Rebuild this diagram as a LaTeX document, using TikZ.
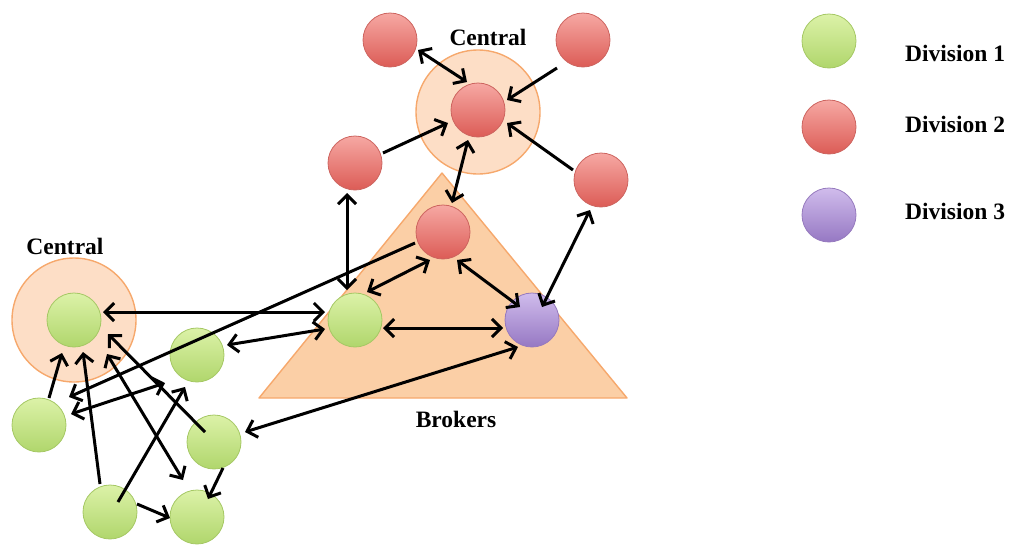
\documentclass[tikz,border=0pt]{standalone}
\usepackage{fontspec}
\setmainfont{Liberation Serif}
\usetikzlibrary{arrows.meta,calc}
\definecolor{gtop}{RGB}{220,242,168}
\definecolor{gbot}{RGB}{176,214,108}
\definecolor{gline}{RGB}{165,200,100}
\definecolor{rtop}{RGB}{246,168,163}
\definecolor{rbot}{RGB}{220,92,86}
\definecolor{rline}{RGB}{205,100,95}
\definecolor{ptop}{RGB}{208,188,236}
\definecolor{pbot}{RGB}{150,120,195}
\definecolor{pline}{RGB}{150,122,190}
\definecolor{orfill}{RGB}{253,222,198}
\definecolor{orline}{RGB}{246,168,108}
\definecolor{trfill}{RGB}{251,207,166}
\begin{document}
\begin{tikzpicture}[x=1pt,y=-1pt,
  dot/.style={circle, minimum size=54pt, inner sep=0pt, outer sep=0pt, line width=0.8pt},
  dA/.style={dot, draw=gline, top color=gtop, bottom color=gbot},
  dB/.style={dot, draw=rline, top color=rtop, bottom color=rbot},
  dC/.style={dot, draw=pline, top color=ptop, bottom color=pbot},
  zone/.style={circle, draw=orline, fill=orfill, line width=1.4pt, inner sep=0pt, minimum size=124pt},
  lbl/.style={font=\fontsize{23.5}{26}\selectfont\bfseries, inner sep=0pt},
  conn/.style={line width=3pt, black},
  >={Straight Barb[length=9pt,width=18pt]}]
\useasboundingbox (0,0) rectangle (1014,544);

% background zones
\coordinate (ta) at (442,173);
\coordinate (tb) at (259,398);
\coordinate (tc) at (627,398);
\fill[trfill] (ta) -- (tb) -- (tc) -- cycle;
\draw[orline, line width=1.4pt, line join=round] (ta) -- (tb) -- (tc) -- cycle;
\node[zone] (zl) at (74,320) {};
\node[zone] (zt) at (478,112) {};

% nodes
\node[dB] (rtl) at (390,40) {};
\node[dB] (rtr) at (583,40) {};
\node[dB] (rc)  at (478,110) {};
\node[dB] (rl)  at (355,163) {};
\node[dB] (rr)  at (601,180) {};
\node[dB] (rb)  at (443,232) {};
\node[dA] (g7)  at (355,320) {};
\node[dC] (p)   at (532,320) {};
\node[dA] (g1)  at (74,320) {};
\node[dA] (g2)  at (197,355) {};
\node[dA] (g3)  at (39,425) {};
\node[dA] (g4)  at (214,442) {};
\node[dA] (g5)  at (110,512) {};
\node[dA] (g6)  at (197,517) {};

% labels
\node[lbl] (ct) at (488,37) {Central};
\node[lbl] (cl) at (65,246) {Central};
\node[lbl] (br) at (456,419) {Brokers};

% legend
\node[dA] (l1) at (829,41) {};
\node[dB] (l2) at (829,127) {};
\node[dC] (l3) at (829,215) {};
\node[lbl, anchor=west] (t1) at (905,53) {Division 1};
\node[lbl, anchor=west] (t2) at (905,124) {Division 2};
\node[lbl, anchor=west] (t3) at (905,211) {Division 3};

% connectors
\draw[conn,<->] ($(rtl)+(28,10)$) -- ($(rc)+(-11,-28)$);
\draw[conn,->] ($(rtr)+(-26,28)$) -- ($(rc)+(29,-10)$);
\draw[conn,->] ($(rl)+(28,-10)$) -- ($(rc)+(-30,13)$);
\draw[conn,->] ($(rr)+(-28,-10)$) -- ($(rc)+(29,13)$);
\draw[conn,<->] ($(rc)+(-10,30)$) -- ($(rb)+(9,-29)$);
\draw[conn,<->] ($(rl)+(-8,30)$) -- ($(g7)+(-8,-30)$);
\draw[conn,<->] ($(rr)+(-11,30)$) -- ($(p)+(10,-13)$);
\draw[conn,<->] ($(rb)+(-13,28)$) -- ($(g7)+(12,-28)$);
\draw[conn,<->] ($(rb)+(14,28)$) -- ($(p)+(-12,-13)$);
\draw[conn,<->] ($(g7)+(28,8)$) -- ($(p)+(-29,8)$);
\draw[conn,->] ($(rb)+(-28,11)$) -- ($(g3)+(30,-28)$);
\draw[conn,<->] ($(g1)+(29,-8)$) -- ($(g7)+(-30,-8)$);
\draw[conn,<->] ($(g2)+(30,-10)$) -- ($(g7)+(-30,9)$);
\draw[conn,<->] ($(p)+(-14,27)$) -- ($(g4)+(31,-10)$);
\draw[conn,<->] ($(g3)+(32,-11)$) -- ($(g2)+(-32,28)$);
\draw[conn,->] ($(g3)+(10,-27)$) -- ($(g1)+(-12,33)$);
\draw[conn,->] ($(g5)+(-10,-28)$) -- ($(g1)+(9,32)$);
\draw[conn,->] ($(g4)+(-9,-10)$) -- ($(g1)+(34,14)$);
\draw[conn,<->] ($(g1)+(33,34)$) -- ($(g6)+(-14,-37)$);
\draw[conn,->] ($(g5)+(8,-10)$) -- ($(g2)+(-12,32)$);
\draw[conn,->] ($(g5)+(27,-8)$) -- ($(g6)+(-27,1)$);
\draw[conn,->] ($(g4)+(9,26)$) -- ($(g6)+(11,-18)$);
\end{tikzpicture}
\end{document}
